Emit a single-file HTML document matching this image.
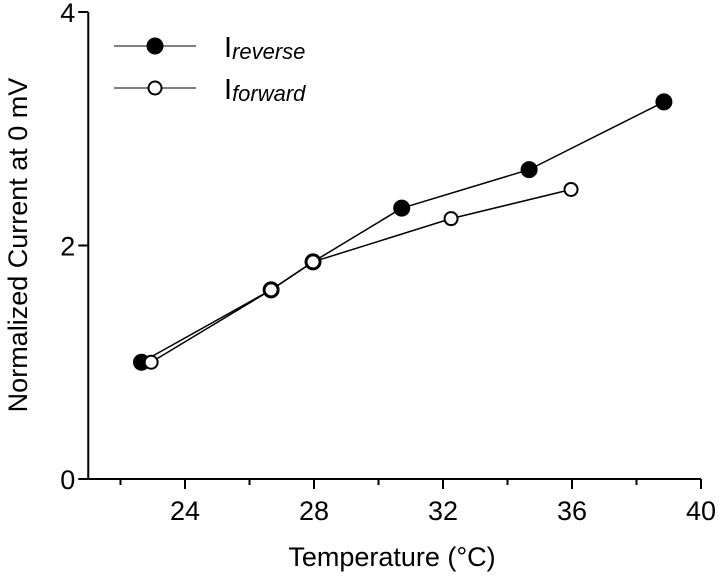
<!DOCTYPE html>
<html><head><meta charset="utf-8"><style>
body{margin:0;background:#fff;}
svg{display:block;font-family:"Liberation Sans",Arial,sans-serif;}
</style></head><body>
<svg id="c" width="720" height="582"></svg>
<script>
const revX=[22.65,26.67,27.97,30.72,34.67,38.85];
const revY=[1.0,1.62,1.86,2.32,2.65,3.23];
const fwdX=[22.95,26.67,27.97,32.25,35.97];
const fwdY=[1.0,1.62,1.86,2.23,2.48];
const xTicks=[24,28,32,36,40];
const xMinor=[22,26,30,34,38];
const yTicks=[0,2,4];
const NS="http://www.w3.org/2000/svg";
const svg=document.getElementById('c');
function sx(v){return 185+(v-24)*32.25;}
function sy(v){return 479-v*116.75;}
function el(t,a,p){const e=document.createElementNS(NS,t);for(const k in a)e.setAttribute(k,a[k]);(p||svg).appendChild(e);return e;}
const axes=el('g',{});


el('line',{x1:sx(21),y1:sy(0),x2:sx(40),y2:sy(0),stroke:'#000','stroke-width':2},axes);
el('line',{x1:sx(21),y1:sy(0),x2:sx(21),y2:sy(4),stroke:'#000','stroke-width':2},axes);
xTicks.forEach(t=>{
 el('line',{x1:sx(t),y1:479,x2:sx(t),y2:489,stroke:'#000','stroke-width':2},axes);
 const tx=el('text',{x:sx(t),y:520,'font-size':27,'text-anchor':'middle'},axes);tx.textContent=t;
 
 
});
xMinor.forEach(t=>el('line',{x1:sx(t),y1:479,x2:sx(t),y2:485,stroke:'#000','stroke-width':2},axes));
yTicks.forEach(t=>{
 el('line',{x1:sx(21)-10,y1:sy(t),x2:sx(21),y2:sy(t),stroke:'#000','stroke-width':2},axes);
 const tx=el('text',{x:sx(21)-13,y:sy(t)+10,'font-size':27,'text-anchor':'end'},axes);tx.textContent=t;
 
 
});
const xt=el('text',{x:392,y:566,'font-size':27,'text-anchor':'middle'});xt.textContent='Temperature (°C)';


const yt=el('text',{x:0,y:0,'font-size':27,'text-anchor':'middle',transform:'translate(27,245) rotate(-90)'});yt.textContent='Normalized Current at 0 mV';


function series(xs,ys,fill,name){
 const g=el('g',{});
 
 
 el('polyline',{points:xs.map((x,i)=>sx(x)+','+sy(ys[i])).join(' '),fill:'none',stroke:'#000','stroke-width':1.5},g);
 xs.forEach((x,i)=>{const c=el('circle',{cx:sx(x),cy:sy(ys[i]),r:fill?7.5:6.5,fill:fill?'#000':'#fff',stroke:'#000','stroke-width':2},g);
 
 });
}
series(revX,revY,true,'reverse-series');
series(fwdX,fwdY,false,'forward-series');
function leg(y,fill,sub,name){
 const g=el('g',{});
 
 
 el('line',{x1:114,y1:y,x2:196,y2:y,stroke:'#000','stroke-width':1},g);
 el('circle',{cx:155,cy:y,r:fill?7.5:6.5,fill:fill?'#000':'#fff',stroke:'#000','stroke-width':2},g);
 const t=el('text',{x:224,y:y+11,'font-size':29},g);
 t.textContent='I';
 const s=el('tspan',{'font-size':22,'font-style':'italic',dy:2},t);s.textContent=sub;
}
leg(46,true,'reverse','legend-reverse');
leg(88,false,'forward','legend-forward');
</script>
</body></html>
